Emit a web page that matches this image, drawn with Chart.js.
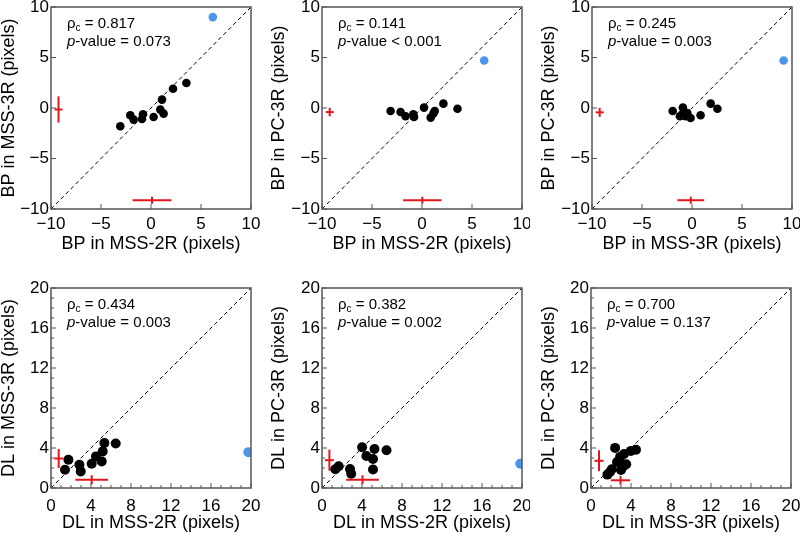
<!DOCTYPE html>
<html>
<head>
<meta charset="utf-8">
<script src="https://cdn.jsdelivr.net/npm/chart.js@4.4.0/dist/chart.umd.min.js"></script>
<style>
  html, body { margin: 0; padding: 0; background: #fff; }
  #wrap { position: relative; width: 800px; height: 537px; }
  .cell { position: absolute; }
</style>
</head>
<body>
<div id="wrap">
  <div class="cell" style="left:0;top:0;width:260px;height:265px"><canvas id="p1"></canvas></div>
  <div class="cell" style="left:270px;top:0;width:260px;height:265px"><canvas id="p2"></canvas></div>
  <div class="cell" style="left:540px;top:0;width:260px;height:265px"><canvas id="p3"></canvas></div>
  <div class="cell" style="left:0;top:265px;width:260px;height:272px"><canvas id="p4"></canvas></div>
  <div class="cell" style="left:270px;top:265px;width:260px;height:272px"><canvas id="p5"></canvas></div>
  <div class="cell" style="left:540px;top:265px;width:260px;height:272px"><canvas id="p6"></canvas></div>
</div>
<script>
// --- data ---
// BP: MSS-2R vs MSS-3R
const bp1X = [-3.07, -2.07, -1.74, -0.90, -0.80, 0.26, 0.93, 1.10, 1.26, 2.20, 3.54];
const bp1Y = [-1.81, -0.72, -1.15, -1.09, -0.62, -0.89, -0.16, 0.83, -0.56, 1.91, 2.47];
const bp1Out = [6.18, 9.0];
// BP: MSS-2R vs PC-3R
const bp2X = [-3.14, -2.14, -1.64, -0.87, -0.80, 0.20, 0.87, 1.14, 1.27, 2.14, 3.55];
const bp2Y = [-0.30, -0.40, -0.82, -0.62, -0.89, 0.04, -0.95, -0.55, -0.30, 0.43, -0.07];
const bp2Out = [6.22, 4.71];
// BP: MSS-3R vs PC-3R
const bp3X = [-1.93, -0.91, -0.97, -0.64, -0.14, -1.21, -0.47, 0.86, 1.87, 2.54];
const bp3Y = [-0.30, 0.04, -0.62, -0.82, -0.99, -0.82, -0.49, -0.72, 0.43, -0.07];
const bp3Out = [9.16, 4.71];
// DL: MSS-2R vs MSS-3R
const dl1X = [1.40, 1.74, 2.84, 2.97, 4.07, 4.50, 5.07, 5.17, 5.34, 6.47];
const dl1Y = [1.83, 2.83, 2.33, 1.66, 2.43, 3.16, 2.66, 3.66, 4.50, 4.45];
const dl1Out = [19.73, 3.57];
// DL: MSS-2R vs PC-3R
const dl2X = [1.33, 1.67, 2.80, 2.92, 4.01, 4.44, 5.10, 5.25, 5.10, 6.45];
const dl2Y = [1.87, 2.17, 1.90, 1.42, 4.08, 3.20, 2.90, 3.90, 1.85, 3.77];
const dl2Out = [19.83, 2.43];
// DL: MSS-3R vs PC-3R
const dl3X = [1.64, 1.90, 2.08, 2.41, 2.60, 2.91, 3.00, 3.25, 3.52, 3.30, 3.99, 4.50];
const dl3Y = [1.34, 1.60, 1.87, 4.01, 2.60, 3.11, 1.80, 2.17, 2.37, 3.40, 3.71, 3.82];

// mean error crosses: [centre x, centre y, half width x, half width y]
const bp1ErrY = [-9.25, -0.15, 0.4, 1.3],  bp1ErrX = [0.10, -9.13, 1.94, 0.35];
const bp2ErrY = [-9.23, -0.40, 0.4, 0.43], bp2ErrX = [0.03, -9.13, 1.92, 0.35];
const bp3ErrY = [-9.23, -0.43, 0.4, 0.45], bp3ErrX = [-0.12, -9.13, 1.34, 0.35];
const dl1ErrY = [0.77, 2.95, 0.45, 0.95],  dl1ErrX = [4.07, 0.83, 1.63, 0.45];
const dl2ErrY = [0.74, 2.78, 0.45, 1.05],  dl2ErrX = [4.05, 0.83, 1.63, 0.45];
const dl3ErrY = [0.80, 2.72, 0.45, 1.05],  dl3ErrX = [2.95, 0.77, 0.97, 0.45];

const rhoC = ['0.817', '0.141', '0.245', '0.434', '0.382', '0.700'];
const pVals = ['= 0.073', '< 0.001', '= 0.003', '= 0.003', '= 0.002', '= 0.137'];

const FONT = '"Liberation Sans", Arial, Helvetica, sans-serif';
const RED = '#e3161d';
const BLUE = '#4d94ea';
Chart.defaults.font.family = FONT;
Chart.defaults.color = '#000';

const minus = v => String(v).replace('-', '\u2212');

// frame + inward ticks + rho/p annotation
const framePlugin = {
  id: 'frame',
  afterDatasetsDraw(chart, args, opts) {
    const { ctx, chartArea: a, scales } = chart;
    ctx.save();
    ctx.strokeStyle = '#555';
    ctx.lineWidth = 1.5;
    ctx.strokeRect(a.left, a.top, a.right - a.left, a.bottom - a.top);
    ctx.lineWidth = 1;
    const xs = scales.x, ys = scales.y;
    for (let v = xs.min; v <= xs.max + 1e-9; v += opts.minor) {
      const px = xs.getPixelForValue(v);
      const len = Math.abs(v / opts.major - Math.round(v / opts.major)) < 1e-6 ? 5 : 3;
      ctx.beginPath();
      ctx.moveTo(px, a.bottom); ctx.lineTo(px, a.bottom - len);
      ctx.stroke();
    }
    for (let v = ys.min; v <= ys.max + 1e-9; v += opts.minor) {
      const py = ys.getPixelForValue(v);
      const len = Math.abs(v / opts.major - Math.round(v / opts.major)) < 1e-6 ? 5 : 3;
      ctx.beginPath();
      ctx.moveTo(a.left, py); ctx.lineTo(a.left + len, py);
      ctx.stroke();
    }

    // annotation
    const x = a.left + 16;
    ctx.fillStyle = '#000';
    ctx.textBaseline = 'alphabetic';
    ctx.textAlign = 'left';
    ctx.font = '15px ' + FONT;
    ctx.fillText('\u03C1', x, a.top + 21);
    let w = ctx.measureText('\u03C1').width;
    ctx.font = '10px ' + FONT;
    ctx.fillText('c', x + w, a.top + 24);
    w += ctx.measureText('c').width;
    ctx.font = '15px ' + FONT;
    ctx.fillText(' = ' + opts.rho, x + w, a.top + 21);
    ctx.font = 'italic 15px ' + FONT;
    ctx.fillText('p', x, a.top + 39);
    w = ctx.measureText('p').width;
    ctx.font = '15px ' + FONT;
    ctx.fillText('-value ' + opts.p, x + w, a.top + 39);
    ctx.restore();
  }
};

function pts(xs, ys) {
  return xs.map((x, i) => ({ x: x, y: ys[i] }));
}

function cross(err) {
  const [cx, cy, hx, hy] = err;
  const seg = d => ({
    data: d, showLine: true, borderColor: RED, borderWidth: 2,
    pointRadius: 0, order: 2
  });
  return [
    seg([{ x: cx - hx, y: cy }, { x: cx + hx, y: cy }]),
    seg([{ x: cx, y: cy - hy }, { x: cx, y: cy + hy }])
  ];
}

function panel(id, cfg) {
  const top = cfg.row === 0;
  const lo = cfg.min, hi = cfg.max;
  const r = top ? 4.3 : 5;
  const datasets = [
    {
      data: [{ x: lo, y: lo }, { x: hi, y: hi }], showLine: true,
      borderColor: '#000', borderWidth: 1, borderDash: [4, 3],
      pointRadius: 0, order: 3
    },
    ...cross(cfg.errY),
    ...cross(cfg.errX),
    {
      data: pts(cfg.xs, cfg.ys), backgroundColor: '#000', borderWidth: 0,
      pointRadius: r, order: 1
    }
  ];
  if (cfg.out) {
    datasets.push({
      data: [{ x: cfg.out[0], y: cfg.out[1] }], backgroundColor: BLUE,
      borderWidth: 0, pointRadius: r, order: 0
    });
  }

  const xH = top ? 56 : 49;
  new Chart(document.getElementById(id), {
    type: 'scatter',
    data: { datasets: datasets },
    options: {
      responsive: true,
      maintainAspectRatio: false,
      animation: false,
      layout: { padding: { top: top ? 7 : 23, right: 260 - cfg.yW - 200, left: 0, bottom: 0 } },
      plugins: {
        legend: { display: false },
        tooltip: { enabled: false },
        frame: { rho: cfg.rho, p: cfg.p, major: cfg.step, minor: cfg.minor }
      },
      scales: {
        x: {
          type: 'linear', min: lo, max: hi,
          grid: { display: false, drawTicks: false },
          border: { display: false },
          ticks: { stepSize: cfg.step, padding: top ? 5 : 8, font: { size: 17 }, color: '#000', callback: minus },
          title: { display: true, text: cfg.xTitle, color: '#000', font: { size: 18, lineHeight: 1 }, padding: { top: 0, bottom: xH - 44 } },
          afterFit: s => { s.height = xH; s.paddingLeft = 0; s.paddingRight = 0; }
        },
        y: {
          type: 'linear', min: lo, max: hi,
          grid: { display: false, drawTicks: false },
          border: { display: false },
          ticks: { stepSize: cfg.step, padding: 2, font: { size: 17 }, color: '#000', callback: minus },
          title: { display: true, text: cfg.yTitle, color: '#000', font: { size: 18, lineHeight: 1 }, padding: 0 },
          afterFit: s => { s.width = cfg.yW; s.paddingTop = 0; s.paddingBottom = 0; }
        }
      }
    },
    plugins: [framePlugin]
  });
}

const bpAxis = { row: 0, min: -10, max: 10, step: 5, minor: 5 };
const dlAxis = { row: 1, min: 0, max: 20, step: 4, minor: 1 };

panel('p1', Object.assign({}, bpAxis, { yW: 51, xs: bp1X, ys: bp1Y, out: bp1Out, errX: bp1ErrX, errY: bp1ErrY,
  rho: rhoC[0], p: pVals[0], xTitle: 'BP in MSS-2R (pixels)', yTitle: 'BP in MSS-3R (pixels)' }));
panel('p2', Object.assign({}, bpAxis, { yW: 52, xs: bp2X, ys: bp2Y, out: bp2Out, errX: bp2ErrX, errY: bp2ErrY,
  rho: rhoC[1], p: pVals[1], xTitle: 'BP in MSS-2R (pixels)', yTitle: 'BP in PC-3R (pixels)' }));
panel('p3', Object.assign({}, bpAxis, { yW: 52, xs: bp3X, ys: bp3Y, out: bp3Out, errX: bp3ErrX, errY: bp3ErrY,
  rho: rhoC[2], p: pVals[2], xTitle: 'BP in MSS-3R (pixels)', yTitle: 'BP in PC-3R (pixels)' }));
panel('p4', Object.assign({}, dlAxis, { yW: 51, xs: dl1X, ys: dl1Y, out: dl1Out, errX: dl1ErrX, errY: dl1ErrY,
  rho: rhoC[3], p: pVals[3], xTitle: 'DL in MSS-2R (pixels)', yTitle: 'DL in MSS-3R (pixels)' }));
panel('p5', Object.assign({}, dlAxis, { yW: 52, xs: dl2X, ys: dl2Y, out: dl2Out, errX: dl2ErrX, errY: dl2ErrY,
  rho: rhoC[4], p: pVals[4], xTitle: 'DL in MSS-2R (pixels)', yTitle: 'DL in PC-3R (pixels)' }));
panel('p6', Object.assign({}, dlAxis, { yW: 51, xs: dl3X, ys: dl3Y, out: null, errX: dl3ErrX, errY: dl3ErrY,
  rho: rhoC[5], p: pVals[5], xTitle: 'DL in MSS-3R (pixels)', yTitle: 'DL in PC-3R (pixels)' }));
</script>
</body>
</html>
